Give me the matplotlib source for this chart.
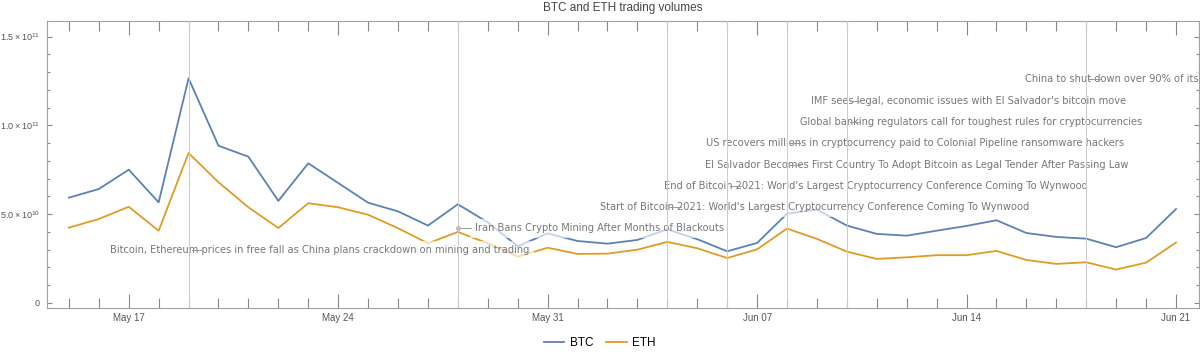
"""
BTC / ETH 일별 거래량 (2021-05-15 ~ 2021-06-21) 과 주요 뉴스 이벤트.
"""

import numpy as np
import matplotlib
matplotlib.use("Agg")
import matplotlib.pyplot as plt
import matplotlib.dates as mdates
from matplotlib.ticker import FixedLocator, FuncFormatter

plt.rcParams["font.family"] = ["Liberation Sans", "DejaVu Sans"]
plt.rcParams["mathtext.default"] = "regular"

dates = np.arange(np.datetime64("2021-05-15"), np.datetime64("2021-06-22"))

# 단위: 1e10
btc = np.array([
    5.92, 6.41, 7.50, 5.66, 12.65, 8.85, 8.23, 5.74, 7.86, 6.75,
    5.64, 5.15, 4.35, 5.55, 4.53, 3.18, 3.91, 3.48, 3.33, 3.54,
    4.14, 3.58, 2.90, 3.37, 5.02, 5.25, 4.35, 3.88, 3.78, 4.06,
    4.33, 4.65, 3.93, 3.71, 3.61, 3.13, 3.65, 5.28,
]) * 1e10
eth = np.array([
    4.23, 4.72, 5.41, 4.06, 8.44, 6.79, 5.38, 4.21, 5.61, 5.38,
    4.96, 4.20, 3.35, 3.99, 3.35, 2.60, 3.10, 2.75, 2.77, 2.99,
    3.43, 3.07, 2.52, 3.01, 4.18, 3.60, 2.88, 2.47, 2.56, 2.68,
    2.68, 2.92, 2.41, 2.19, 2.28, 1.87, 2.26, 3.39,
]) * 1e10

event_dates = np.array([
    "2021-05-19", "2021-05-28", "2021-06-04", "2021-06-06", "2021-06-08",
    "2021-06-08", "2021-06-10", "2021-06-10", "2021-06-18",
], dtype="datetime64[D]")
headlines = [
    "Bitcoin, Ethereum prices in free fall as China plans crackdown on mining and trading",
    "Iran Bans Crypto Mining After Months of Blackouts",
    "Start of Bitcoin 2021: World's Largest Cryptocurrency Conference Coming To Wynwood",
    "End of Bitcoin 2021: World's Largest Cryptocurrency Conference Coming To Wynwood",
    "El Salvador Becomes First Country To Adopt Bitcoin as Legal Tender After Passing Law",
    "US recovers millions in cryptocurrency paid to Colonial Pipeline ransomware hackers",
    "Global banking regulators call for toughest rules for cryptocurrencies",
    "IMF sees legal, economic issues with El Salvador's bitcoin move",
    "China to shut down over 90% of its",
]
# 라벨 위치: 이벤트 날짜 기준 왼쪽 끝 오프셋(일), 높이(1e10)
label_dx = [-2.61, 0.57, -2.24, -2.11, -2.75, -2.71, -1.57, -1.21, -2.04]
label_y = [2.97, 4.19, 5.39, 6.59, 7.79, 9.00, 10.19, 11.39, 12.59]

BTC_C = "#5E81B5"
ETH_C = "#E19C24"
GRAY = "#777777"

x = mdates.date2num(dates)
ex = mdates.date2num(event_dates)

fig = plt.figure(figsize=(12, 3.58), dpi=100)
ax = fig.add_axes([0.0392, 0.1405, 0.96, 0.8008])

for xv in np.unique(ex):
    ax.axvline(xv, color="#cccccc", lw=0.7, zorder=3)

ax.plot(x, btc, color=BTC_C, lw=1.3, zorder=2, label="BTC")
ax.plot(x, eth, color=ETH_C, lw=1.3, zorder=2, label="ETH")

for xv, txt, dx, yv in zip(ex, headlines, label_dx, label_y):
    ax.text(xv + dx, yv * 1e10, txt, fontsize=7.1, color=GRAY, ha="left", va="center",
            family=["DejaVu Sans"], zorder=2.5, clip_on=True,
            bbox=dict(boxstyle="square,pad=0.45", fc="white", ec="none", alpha=0.65))
    ax.plot([xv + 0.1, xv + 0.45], [yv * 1e10] * 2, color="#999999", lw=0.7, zorder=4)
ax.plot(ex[1], label_y[1] * 1e10, "o", ms=2.5, color="#bbbbbb", zorder=4)

ax.set_xlim(x[0] - 0.73, x[-1] + 0.77)
ax.set_ylim(-0.28e10, 15.88e10)

ax.xaxis.set_major_locator(mdates.WeekdayLocator(byweekday=mdates.MO))
ax.xaxis.set_minor_locator(mdates.DayLocator())
ax.xaxis.set_major_formatter(mdates.DateFormatter("%b %d"))

ax.yaxis.set_major_locator(FixedLocator([0, 5e10, 1e11, 1.5e11]))
ax.yaxis.set_minor_locator(FixedLocator(np.arange(0, 16e10, 1e10)))
ylabels = {0: "0", 1: r"$5.0\times10^{10}$", 2: r"$1.0\times10^{11}$", 3: r"$1.5\times10^{11}$"}
ax.yaxis.set_major_formatter(FuncFormatter(lambda v, p: ylabels.get(p, "")))

ax.tick_params(axis="x", which="major", direction="in", length=10, width=0.8,
               top=True, color="#888888", labelsize=7, labelcolor="#555555", pad=4)
ax.tick_params(axis="x", which="minor", direction="in", length=7, width=0.8,
               top=True, color="#888888")
ax.tick_params(axis="y", which="major", direction="in", length=3.5, width=0.8,
               right=True, color="#888888", labelsize=6.5, labelcolor="#555555", pad=5)
ax.tick_params(axis="y", which="minor", direction="in", length=2, width=0.8,
               right=True, color="#888888")
for s in ax.spines.values():
    s.set_color("#a0a0a0")
    s.set_linewidth(0.8)

ax.set_title("BTC and ETH trading volumes", fontsize=8.5, color="#444444", pad=7)

fig.legend(loc="center", bbox_to_anchor=(0.5, 0.042), ncol=2, frameon=False,
           fontsize=8.5, handlelength=1.7, handletextpad=0.5, columnspacing=1.1)

fig.savefig("out.png", dpi=100)
